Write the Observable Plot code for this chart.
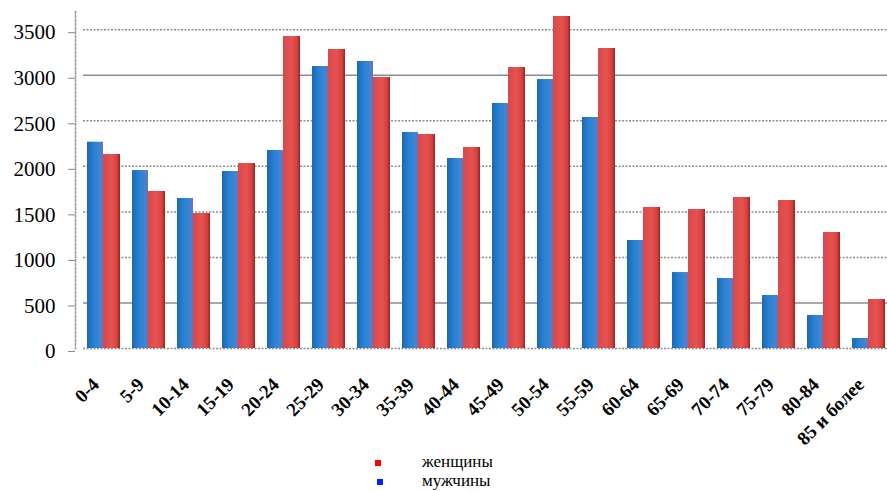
<!DOCTYPE html>
<html><head><meta charset="utf-8">
<script src="https://cdn.jsdelivr.net/npm/d3@7"></script>
<script src="https://cdn.jsdelivr.net/npm/@observablehq/plot@0.6"></script>
<style>
body{margin:0;background:#fff;font-family:"Liberation Serif","Times New Roman",Times,"DejaVu Serif",serif}
#legend{position:relative;width:887px;height:41px}
.item{position:absolute;font-size:17px;line-height:17px;color:#000;white-space:nowrap}
.sw{position:absolute;width:6px;height:6px}
</style></head><body><div id="chart"></div><div id="legend"></div>
<script>
const ages = ["0-4","5-9","10-14","15-19","20-24","25-29","30-34","35-39","40-44","45-49","50-54","55-59","60-64","65-69","70-74","75-79","80-84","85 и более"];
const male =   [2265,1954,1647,1943,2174,3096,3151,2372,2086,2690,2953,2536,1186,834,768,582,362,110];
const female = [2130,1724,1482,2031,3425,3283,2975,2350,2207,3085,3645,3294,1548,1526,1658,1625,1274,538];
const yTicks = [0,500,1000,1500,2000,2500,3000,3500];
const gridSolid = [500,3000];
const gridDotted = [0,1000,1500,2000,2500,3500];
const seriesNames = ["женщины","мужчины"];
const seriesColors = ["#ff0000","#0022ff"];

const data = ages.map((a,i)=>({age:a, male:male[i], female:female[i]}));
const serif = "'Liberation Serif', 'Times New Roman', Times, 'DejaVu Serif', serif";

const plot = Plot.plot({
  width: 887, height: 450,
  marginLeft: 75, marginRight: 0, marginTop: 11, marginBottom: 102,
  style: {fontFamily: serif, background: "#fff", color: "#000"},
  x: {domain: ages, padding: 0, label: null},
  y: {domain: [0, 3700], label: null},
  marks: [
    Plot.ruleY(gridDotted, {stroke: "#8c8c8c", strokeWidth: 1.5, strokeDasharray: "2,1.5", insetLeft: 8}),
    Plot.ruleY(gridSolid, {stroke: "#8c8c8c", strokeWidth: 1.5, insetLeft: 8}),
    Plot.frame({anchor: "left", stroke: "#999", strokeDasharray: "2,2", strokeWidth: 1.5}),
    Plot.barY(data, {x: "age", y: "male", insetLeft: 11, insetRight: 18, fill: "url(#gradBlue)"}),
    Plot.barY(data, {x: "age", y: "female", insetLeft: 27, insetRight: 1, fill: "url(#gradRed)"}),
    Plot.axisY({ticks: yTicks, tickFormat: d => String(d), tickSize: 7, tickPadding: 13, fontSize: 21, fontFamily: serif, stroke: "#888", dy: 3}),
    Plot.axisX({tickRotate: -45, tickSize: 0, tickPadding: 33, fontSize: 19, fontWeight: "bold", fontFamily: serif, dx: -3})
  ]
});
plot.insertAdjacentHTML("afterbegin", `<defs>
<linearGradient id="gradBlue" x1="0" x2="1" y1="0" y2="0">
<stop offset="0" stop-color="#1a68b8"/><stop offset="0.45" stop-color="#2a82d2"/>
<stop offset="0.8" stop-color="#3d86d4"/><stop offset="1" stop-color="#7070b8"/></linearGradient>
<linearGradient id="gradRed" x1="0" x2="1" y1="0" y2="0">
<stop offset="0" stop-color="#d8484c"/><stop offset="0.5" stop-color="#e5524f"/>
<stop offset="0.82" stop-color="#d6423f"/><stop offset="1" stop-color="#8e2626"/></linearGradient>
</defs>`);
document.getElementById("chart").appendChild(plot);

const legend = document.getElementById("legend");
const swTops = [10, 29], txtTops = [3, 22];
seriesNames.forEach((n,i)=>{
  const s = document.createElement("div");
  s.className = "sw"; s.style.left = (375 + 2*i) + "px"; s.style.top = swTops[i] + "px";
  s.style.background = seriesColors[i];
  legend.appendChild(s);
  const t = document.createElement("div");
  t.className = "item"; t.style.left = "422px"; t.style.top = txtTops[i] + "px";
  t.textContent = n;
  legend.appendChild(t);
});
</script></body></html>
